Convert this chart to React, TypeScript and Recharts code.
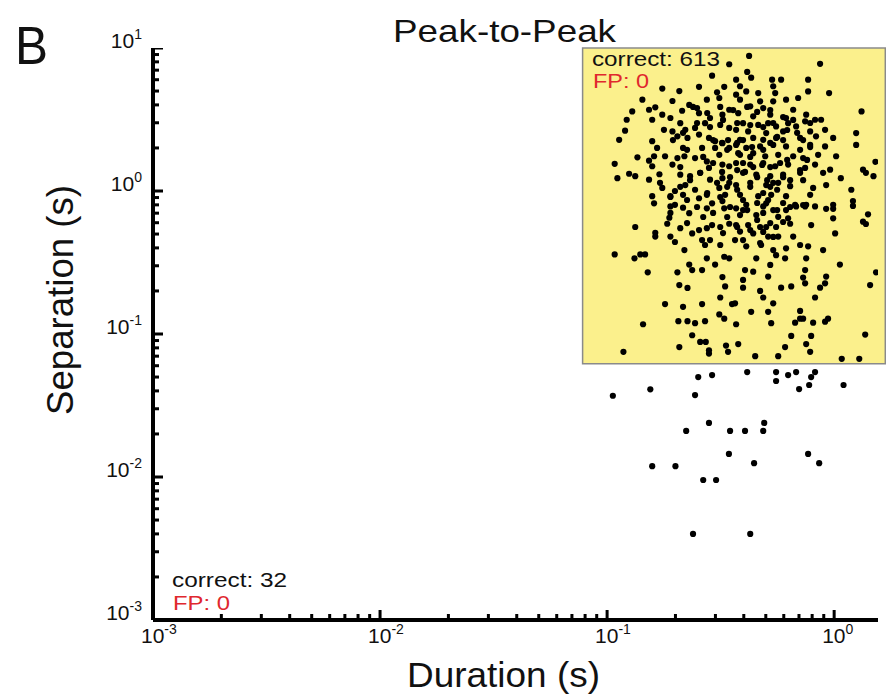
import { ReferenceArea, Scatter, ScatterChart, XAxis, YAxis } from 'recharts';

// [duration (s), separation (s)], grouped by region
const boxUpperLeft = [
  [0.290, 6.4], [0.175, 5.2], [0.208, 5.0], [0.254, 5.35], [0.305, 4.9], [0.328, 5.35], [0.143, 4.35], [0.194, 4.26],
  [0.230, 4.0], [0.275, 4.35], [0.312, 4.47], [0.129, 3.6], [0.153, 3.7], [0.163, 3.85], [0.158, 3.15], [0.175, 3.42],
  [0.190, 3.24], [0.214, 3.64], [0.249, 3.8], [0.254, 3.5], [0.284, 3.24], [0.322, 3.42], [0.345, 3.7], [0.122, 3.15],
  [0.210, 2.98], [0.221, 2.68], [0.244, 2.76], [0.270, 2.98], [0.315, 2.9], [0.345, 2.76], [0.120, 2.64], [0.178, 2.68],
  [0.194, 2.61], [0.204, 2.41], [0.226, 2.35], [0.254, 2.48], [0.281, 2.35], [0.299, 2.23], [0.322, 2.16], [0.113, 2.28],
  [0.158, 2.23], [0.216, 2.0], [0.262, 2.0], [0.299, 2.0], [0.345, 2.0], [0.166, 2.0], [0.136, 1.72], [0.153, 1.63],
  [0.161, 1.75], [0.180, 1.75], [0.204, 1.7], [0.219, 1.75], [0.244, 1.7], [0.275, 1.61], [0.312, 1.79], [0.108, 1.55],
  [0.158, 1.49], [0.194, 1.53], [0.281, 1.45], [0.322, 1.53], [0.345, 1.49], [0.111, 1.23], [0.125, 1.32], [0.133, 1.27],
  [0.153, 1.2], [0.170, 1.31], [0.210, 1.3], [0.232, 1.27], [0.257, 1.34], [0.284, 1.2], [0.322, 1.23], [0.345, 1.14],
  [0.175, 1.05], [0.199, 1.0], [0.221, 1.1], [0.244, 1.02], [0.275, 0.94], [0.312, 1.05], [0.331, 0.94], [0.158, 0.92],
  [0.190, 0.92], [0.216, 0.94], [0.254, 0.89], [0.290, 0.82], [0.322, 0.85], [0.161, 0.82], [0.199, 0.8], [0.345, 7.7],
];

const boxUpperRight = [
  [0.422, 8.8], [0.867, 7.75], [0.414, 6.8], [0.431, 6.2], [0.37, 6.0], [0.533, 6.0], [0.584, 6.0], [0.768, 6.0],
  [0.385, 5.4], [0.539, 5.4], [0.37, 4.72], [0.41, 4.97], [0.463, 4.84], [0.55, 4.84], [0.768, 4.97], [0.95, 4.84],
  [0.385, 4.35], [0.472, 4.24], [0.539, 4.24], [0.614, 4.35], [0.694, 4.47], [0.427, 3.91], [0.487, 3.8], [0.66, 3.7],
  [1.32, 3.6], [0.378, 3.5], [0.44, 3.33], [0.523, 3.42], [0.614, 3.24], [0.753, 3.42], [0.876, 3.15], [0.397, 2.98],
  [0.463, 2.9], [0.512, 2.98], [0.555, 2.83], [0.627, 2.98], [0.68, 2.83], [0.745, 3.07], [0.824, 3.15], [0.37, 2.68],
  [0.418, 2.61], [0.502, 2.54], [0.596, 2.61], [0.784, 2.61], [0.912, 2.68], [1.25, 2.54], [0.385, 2.28], [0.44, 2.35],
  [0.487, 2.28], [0.555, 2.35], [0.708, 2.35], [0.832, 2.41], [0.99, 2.35], [1.25, 2.1], [0.37, 2.1], [0.41, 2.0],
  [0.472, 2.05], [0.539, 2.1], [0.614, 2.05], [0.784, 2.1], [0.912, 2.05], [0.385, 1.79], [0.44, 1.84], [0.497, 1.75],
  [0.567, 1.79], [0.66, 1.75], [0.73, 1.7], [0.85, 1.79], [1.02, 1.75], [0.37, 1.57], [0.427, 1.53], [0.487, 1.57],
  [0.55, 1.49], [0.627, 1.53], [0.745, 1.45], [0.824, 1.53], [0.96, 1.41], [1.52, 1.6], [1.34, 1.41], [0.397, 1.34],
  [0.454, 1.3], [0.523, 1.27], [0.596, 1.3], [0.708, 1.34], [0.894, 1.34], [1.07, 1.23], [1.38, 1.34], [1.49, 1.27],
  [0.37, 1.1], [0.427, 1.14], [0.502, 1.1], [0.567, 1.14], [0.64, 1.08], [0.808, 1.05], [0.922, 1.1], [0.385, 0.94],
  [0.463, 0.92], [0.528, 0.94], [0.614, 0.92], [0.784, 0.94], [1.19, 1.02], [1.21, 0.85], [0.41, 0.8], [0.502, 0.82],
  [0.673, 0.8], [0.753, 0.8], [0.99, 0.8],
];

// the dense middle of the cloud
const boxCore = [
  [0.293, 2.27], [0.321, 2.17], [0.341, 2.27], [0.374, 2.17], [0.397, 2.27], [0.435, 2.03], [0.338, 1.94], [0.378, 1.84],
  [0.427, 1.73], [0.487, 1.94], [0.523, 2.17], [0.561, 2.39], [0.596, 2.27], [0.397, 1.57], [0.44, 1.47], [0.482, 1.52],
  [0.523, 1.47], [0.578, 1.57], [0.621, 1.65], [0.374, 1.4], [0.405, 1.36], [0.321, 1.36], [0.348, 1.25], [0.458, 1.25],
  [0.507, 1.19], [0.539, 1.14], [0.596, 1.25], [0.64, 1.19], [0.305, 1.14], [0.338, 1.07], [0.374, 1.02], [0.427, 1.07],
  [0.487, 0.968], [0.523, 1.07], [0.561, 1.02], [0.276, 0.968], [0.315, 0.908], [0.397, 0.865], [0.458, 0.824], [0.512, 0.865],
  [0.596, 0.824], [0.348, 0.773], [0.414, 0.736], [0.487, 0.702], [0.561, 0.736], [0.64, 0.773], [0.73, 0.798], [0.293, 0.702],
  [0.338, 0.658], [0.458, 0.627], [0.523, 0.597], [0.596, 0.607], [0.374, 0.56], [0.427, 0.533], [0.487, 0.517], [0.324, 0.508],
  [0.284, 0.454], [0.397, 0.454], [0.472, 0.433], [0.539, 0.477], [0.249, 2.99], [0.284, 2.8], [0.324, 3.14], [0.374, 2.99],
  [0.427, 2.89], [0.487, 2.8], [0.539, 2.99], [0.621, 2.67], [0.687, 2.55], [0.73, 2.27], [0.784, 2.03], [0.708, 1.94],
  [0.76, 1.65], [0.708, 1.4], [0.73, 1.19], [0.265, 1.73], [0.293, 1.57], [0.257, 1.34], [0.232, 1.19], [0.21, 1.07],
  [0.225, 0.865], [0.249, 0.773], [0.265, 0.658], [0.225, 0.597], [0.19, 0.702], [0.19, 0.908], [0.171, 1.14], [0.21, 1.47],
  [0.225, 1.94], [0.195, 2.27], [0.216, 2.55], [0.239, 3.87], [0.276, 3.51], [0.315, 3.87], [0.359, 3.68], [0.414, 3.87],
  [0.458, 3.57], [0.523, 3.68], [0.596, 3.29], [0.66, 3.14], [0.784, 2.99],
];

const boxLowerLeft = [
  [0.190, 0.78], [0.216, 0.765], [0.230, 0.7], [0.275, 0.757], [0.328, 0.757], [0.188, 0.65], [0.184, 0.59], [0.133, 0.56],
  [0.163, 0.51], [0.163, 0.48], [0.210, 0.55], [0.237, 0.505], [0.254, 0.533], [0.275, 0.55], [0.290, 0.578], [0.315, 0.56],
  [0.345, 0.59], [0.190, 0.48], [0.199, 0.44], [0.262, 0.454], [0.270, 0.419], [0.315, 0.419], [0.108, 0.36], [0.132, 0.338],
  [0.140, 0.36], [0.147, 0.36], [0.219, 0.386], [0.275, 0.338], [0.328, 0.347], [0.345, 0.338], [0.230, 0.306], [0.262, 0.28],
  [0.299, 0.306], [0.237, 0.28], [0.151, 0.27], [0.204, 0.27], [0.322, 0.25], [0.208, 0.22], [0.226, 0.21], [0.331, 0.215],
  [0.315, 0.18], [0.180, 0.162], [0.216, 0.155], [0.262, 0.162], [0.355, 0.162], [0.312, 0.137], [0.328, 0.128], [0.206, 0.123],
  [0.226, 0.123], [0.244, 0.119], [0.270, 0.123], [0.144, 0.117], [0.237, 0.098], [0.257, 0.088], [0.272, 0.088], [0.208, 0.081],
  [0.281, 0.077], [0.281, 0.073], [0.334, 0.083], [0.341, 0.075], [0.118, 0.075],
];

const boxLowerRight = [
  [0.37, 0.757], [0.397, 0.736], [0.487, 0.78], [0.539, 0.736], [0.614, 0.736], [0.68, 0.78], [0.745, 0.78], [0.824, 0.78],
  [0.922, 0.75], [0.99, 0.75], [0.99, 0.644], [1.21, 0.786], [1.41, 0.687], [1.34, 0.61], [1.38, 0.588], [0.385, 0.679],
  [0.454, 0.679], [0.567, 0.66], [0.627, 0.644], [0.37, 0.578], [0.418, 0.578], [0.472, 0.56], [0.502, 0.56], [0.555, 0.56],
  [0.64, 0.59], [0.792, 0.578], [0.385, 0.52], [0.44, 0.505], [0.512, 0.48], [0.567, 0.48], [0.66, 0.48], [1.01, 0.505],
  [0.366, 0.454], [0.41, 0.41], [0.477, 0.419], [0.539, 0.386], [0.614, 0.397], [0.708, 0.419], [0.768, 0.41], [0.894, 0.386],
  [0.555, 0.356], [0.608, 0.338], [0.454, 0.338], [0.753, 0.338], [1.06, 0.306], [0.523, 0.304], [0.405, 0.28], [0.44, 0.273],
  [0.512, 0.252], [0.745, 0.28], [0.73, 0.248], [0.922, 0.252], [1.53, 0.27], [0.397, 0.239], [0.745, 0.226], [0.912, 0.226],
  [1.44, 0.22], [0.397, 0.211], [0.584, 0.211], [0.647, 0.215], [0.867, 0.211], [0.472, 0.2], [0.487, 0.18], [0.824, 0.18],
  [0.366, 0.164], [0.539, 0.164], [0.431, 0.143], [0.512, 0.143], [0.708, 0.145], [0.708, 0.128], [0.73, 0.128], [0.94, 0.128],
  [0.912, 0.122], [0.37, 0.117], [0.528, 0.119], [0.673, 0.12], [0.808, 0.12], [0.647, 0.097], [0.792, 0.097], [1.37, 0.099],
  [0.378, 0.085], [0.608, 0.081], [0.753, 0.085], [0.784, 0.075], [0.449, 0.07], [0.567, 0.07], [1.08, 0.067], [1.29, 0.067],
];

const belowBox = [
  [0.106, 0.037], [0.155, 0.041], [0.252, 0.05], [0.290, 0.0516], [0.244, 0.0374], [0.414, 0.0542], [0.555, 0.0542],
  [0.555, 0.0469], [0.627, 0.0516], [0.680, 0.0542], [0.824, 0.0542], [0.792, 0.05], [0.701, 0.0412], [0.776, 0.044],
  [1.10, 0.044], [0.281, 0.0239], [0.223, 0.021], [0.348, 0.021], [0.405, 0.021], [0.487, 0.021], [0.492, 0.0239],
  [0.344, 0.0145], [0.444, 0.0125], [0.768, 0.0145], [0.859, 0.0125], [0.158, 0.0119], [0.200, 0.0119], [0.265, 0.00953],
  [0.302, 0.00953], [0.239, 0.004], [0.427, 0.004],
];

const xTicks = [
  0.001, 0.002, 0.003, 0.004, 0.005, 0.006, 0.007, 0.008, 0.009,
  0.01, 0.02, 0.03, 0.04, 0.05, 0.06, 0.07, 0.08, 0.09,
  0.1, 0.2, 0.3, 0.4, 0.5, 0.6, 0.7, 0.8, 0.9, 1,
];
const yTicks = [
  0.001, 0.002, 0.003, 0.004, 0.005, 0.006, 0.007, 0.008, 0.009,
  0.01, 0.02, 0.03, 0.04, 0.05, 0.06, 0.07, 0.08, 0.09,
  0.1, 0.2, 0.3, 0.4, 0.5, 0.6, 0.7, 0.8, 0.9,
  1, 2, 3, 4, 5, 6, 7, 8, 9, 10,
];

const FONT = '"Liberation Sans", Arial, Helvetica, sans-serif';
const RED = '#e0282e';
const X_MIN = 0.001;
const Y_MIN = 0.001;

const toPoints = (pairs: number[][]) => pairs.map(([x, y]) => ({ x, y }));

const decade = (v: number) => {
  const e = Math.round(Math.log10(v));
  return { e, major: Math.abs(Math.log10(v) - e) < 1e-6 };
};

const XLabel = (props: any) => {
  const { x, y, payload } = props;
  const { e, major } = decade(payload.value);
  if (!major) return <g />;
  return (
    <text x={x - 12} y={y + 23} fontSize={21} fontFamily={FONT} fill="#111">
      10<tspan dy={-9} fontSize={14}>{e}</tspan>
    </text>
  );
};

const YLabel = (props: any) => {
  const { x, y, payload } = props;
  const { e, major } = decade(payload.value);
  if (!major) return <g />;
  return (
    <text x={x - 11} y={y} textAnchor="end" fontSize={21} fontFamily={FONT} fill="#111">
      10<tspan dy={-9} fontSize={14}>{e}</tspan>
    </text>
  );
};

// tick marks: points sitting on the axes, drawn as short inward bars
const xTickMarks = xTicks.map((v) => ({ x: v, y: Y_MIN }));
const yTickMarks = yTicks.map((v) => ({ x: X_MIN, y: v }));

const XMark = (p: any) => {
  const len = decade(p.payload.x).major ? 10 : 6;
  return <rect x={p.cx - 1.5} y={p.cy - len} width={3} height={len} fill="#000" />;
};
const YMark = (p: any) => {
  const len = decade(p.payload.y).major ? 10 : 6;
  return <rect x={p.cx} y={p.cy - 1.5} width={len} height={3} fill="#000" />;
};

const Dot = (props: any) => <circle cx={props.cx} cy={props.cy} r={3.1} fill="#000" />;

export default function App() {
  const series = [boxUpperLeft, boxUpperRight, boxCore, boxLowerLeft, boxLowerRight, belowBox];
  return (
    <div style={{ position: 'absolute', left: 0, top: 0, width: 886, height: 698, background: '#fff' }}>
      <ScatterChart width={886} height={698} margin={{ top: 48, right: 8, left: 93, bottom: 48 }}>
        <XAxis
          type="number"
          dataKey="x"
          scale="log"
          domain={[X_MIN, 1.56]}
          allowDataOverflow
          ticks={xTicks}
          interval={0}
          tickSize={0}
          tickMargin={0}
          height={30}
          axisLine={{ stroke: '#000', strokeWidth: 4 }}
          tickLine={false}
          tick={<XLabel />}
        />
        <YAxis
          type="number"
          dataKey="y"
          scale="log"
          domain={[Y_MIN, 10]}
          allowDataOverflow
          ticks={yTicks}
          interval={0}
          tickSize={0}
          tickMargin={0}
          width={60}
          axisLine={{ stroke: '#000', strokeWidth: 4 }}
          tickLine={false}
          tick={<YLabel />}
        />
        <ReferenceArea
          x1={0.078}
          x2={1.68}
          y1={0.062}
          y2={10}
          ifOverflow="visible"
          fill="#fbf08c"
          fillOpacity={1}
          stroke="#8a8a8a"
          strokeWidth={1.5}
        />
        {series.map((pairs, i) => (
          <Scatter key={i} data={toPoints(pairs)} shape={<Dot />} isAnimationActive={false} />
        ))}
        <Scatter data={xTickMarks} shape={<XMark />} isAnimationActive={false} />
        <Scatter data={yTickMarks} shape={<YMark />} isAnimationActive={false} />
      </ScatterChart>
      <svg width={886} height={698} style={{ position: 'absolute', left: 0, top: 0, pointerEvents: 'none' }}>
        <text x={15} y={64} fontSize={54} fontFamily={FONT} fill="#111" textLength={33} lengthAdjust="spacingAndGlyphs">B</text>
        <text x={393} y={42} fontSize={32} fontFamily={FONT} fill="#111" textLength={223} lengthAdjust="spacingAndGlyphs">
          Peak-to-Peak
        </text>
        <text x={407} y={687} fontSize={35} fontFamily={FONT} fill="#111" textLength={193} lengthAdjust="spacingAndGlyphs">
          Duration (s)
        </text>
        <text
          transform="translate(73,300) rotate(-90)"
          textAnchor="middle"
          fontSize={36}
          fontFamily={FONT}
          fill="#111"
          textLength={230}
          lengthAdjust="spacingAndGlyphs"
        >
          Separation (s)
        </text>
        <text x={592} y={66} fontSize={20} fontFamily={FONT} fill="#111" textLength={128} lengthAdjust="spacingAndGlyphs">
          correct: 613
        </text>
        <text x={593} y={88} fontSize={21} fontFamily={FONT} fill={RED} textLength={56} lengthAdjust="spacingAndGlyphs">
          FP: 0
        </text>
        <text x={172} y={587} fontSize={20} fontFamily={FONT} fill="#111" textLength={115} lengthAdjust="spacingAndGlyphs">
          correct: 32
        </text>
        <text x={173} y={610} fontSize={21} fontFamily={FONT} fill={RED} textLength={57} lengthAdjust="spacingAndGlyphs">
          FP: 0
        </text>
      </svg>
    </div>
  );
}
